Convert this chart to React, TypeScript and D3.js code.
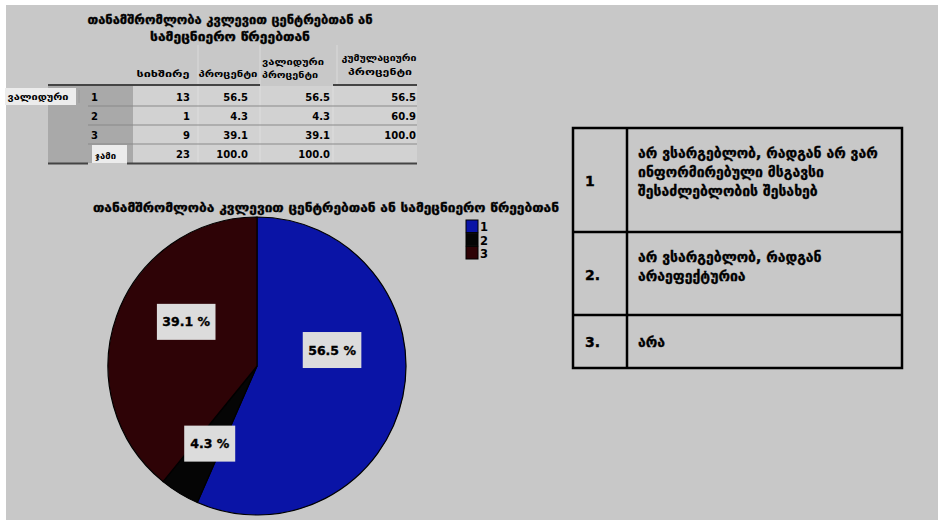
import * as d3 from 'd3';

// frequency table (SPSS output)
const categories = ['1', '2', '3'];
const frequency = [13, 1, 9];
const percent = [56.5, 4.3, 39.1];
const validPercent = [56.5, 4.3, 39.1];
const cumulativePercent = [56.5, 60.9, 100.0];
const totalFrequency = 23;
const totalPercent = 100.0;

const tableTitle = ['თანამშრომლობა კვლევით ცენტრებთან ან', 'სამეცნიერო წრეებთან'];
const pieTitle = 'თანამშრომლობა კვლევით ცენტრებთან ან სამეცნიერო წრეებთან';

// answer key on the right
const noteNumbers = ['1', '2.', '3.'];
const noteLines = [
  ['არ ვსარგებლობ, რადგან არ ვარ', 'ინფორმირებული მსგავსი', 'შესაძლებლობის შესახებ'],
  ['არ ვსარგებლობ, რადგან', 'არაეფექტურია'],
  ['არა'],
];

const W = 938;
const H = 520;
const FONT = '"DejaVu Sans", sans-serif';
const BG = '#c8c8c8';
const pieColors = ['#0a14a6', '#050505', '#2e0306'];

// where SPSS dropped the labels inside each slice: fraction of the slice angle, fraction of radius
const labelPlacement = [
  { frac: 0.383, r: 0.515 },
  { frac: 0.5, r: 0.61 },
  { frac: 0.588, r: 0.56 },
];

// a bit of stroke makes DejaVu look closer to the heavy SPSS font
const heavy = { stroke: '#000', strokeWidth: 0.35 };

function Label({ x, y, text }: { x: number; y: number; text: string }) {
  const w = text.length * 7.6 + 13;
  const h = 36;
  return (
    <g>
      <rect x={x - w / 2} y={y - h / 2} width={w} height={h} fill="#dcdcdc" />
      <text x={x} y={y} textAnchor="middle" dominantBaseline="central" fontSize={12.5} fontWeight="bold" fill="#000" {...heavy}>
        {text}
      </text>
    </g>
  );
}

export default function App() {
  // ---------- frequency table ----------
  const rowY = d3.scalePoint<string>().domain([...categories, 'total']).range([97, 154]);
  const colRight = [190, 248, 330, 416];
  const fmt = d3.format('.1f');

  const tableRows = categories.map((c, i) => ({
    label: c,
    values: [String(frequency[i]), fmt(percent[i]), fmt(validPercent[i]), fmt(cumulativePercent[i])],
  }));

  // ---------- pie ----------
  const cx = 257;
  const cy = 366;
  const radius = 149;
  const pieData = d3.pie<number>().sort(null).value(d => d)(percent);
  const arc = d3.arc<d3.PieArcDatum<number>>().innerRadius(0).outerRadius(radius);

  const legendY = d3.scaleBand<string>().domain(categories).range([220, 259]).paddingInner(0.05);

  // ---------- answer key ----------
  const keyX0 = 573;
  const keyX1 = 902;
  const keyDiv = 627;
  const keyRowEdges = [128, 232, 315, 368];

  return (
    <div style={{ position: 'absolute', left: 0, top: 0, width: W, height: H, background: '#fff' }}>
      <svg width={W} height={H} viewBox={`0 0 ${W} ${H}`} style={{ display: 'block', fontFamily: FONT }}>
        <rect x={6} y={5} width={W - 6} height={H - 5} fill={BG} />

        {/* table title */}
        <text x={230} y={20} textAnchor="middle" dominantBaseline="central" fontSize={11.5} fontWeight="bold"
          textLength={285} lengthAdjust="spacingAndGlyphs" {...heavy}>{tableTitle[0]}</text>
        <text x={230} y={37} textAnchor="middle" dominantBaseline="central" fontSize={11.5} fontWeight="bold"
          textLength={160} lengthAdjust="spacingAndGlyphs" {...heavy}>{tableTitle[1]}</text>

        {/* header cell dividers */}
        {[198, 260, 337].map(x => (
          <line key={x} x1={x} x2={x} y1={45} y2={84} stroke="#dadada" strokeWidth={1} />
        ))}

        {/* header texts */}
        <g fontSize={8.5} fontWeight="bold" dominantBaseline="central">
          <text x={163} y={74} textAnchor="middle" textLength={53} lengthAdjust="spacingAndGlyphs">სიხშირე</text>
          <text x={228} y={74} textAnchor="middle" textLength={59} lengthAdjust="spacingAndGlyphs">პროცენტი</text>
          <text x={262} y={62} textLength={62} lengthAdjust="spacingAndGlyphs">ვალიდური</text>
          <text x={262} y={75} textLength={56} lengthAdjust="spacingAndGlyphs">პროცენტი</text>
          <text x={379} y={58} textAnchor="middle" textLength={75} lengthAdjust="spacingAndGlyphs">კუმულაციური</text>
          <text x={380} y={72} textAnchor="middle" textLength={64} lengthAdjust="spacingAndGlyphs">პროცენტი</text>
        </g>

        {/* body background */}
        <rect x={48} y={86} width={85} height={77} fill="#a9a9a9" />
        <rect x={133} y={86} width={284} height={77} fill="#d2d2d2" />
        {[198, 260, 333].map(x => (
          <line key={x} x1={x} x2={x} y1={86} y2={163} stroke="#dedede" strokeWidth={1} />
        ))}

        {/* row separators */}
        {[106, 125, 144].map(y => (
          <line key={y} x1={88} x2={417} y1={y} y2={y} stroke="#8a8a8a" strokeWidth={1.2} />
        ))}
        {/* header rule */}
        <line x1={48} x2={260} y1={85} y2={85} stroke="#444" strokeWidth={2} />
        <line x1={333} x2={417} y1={85} y2={85} stroke="#444" strokeWidth={2} />

        {/* row group label */}
        <rect x={5} y={88} width={71} height={17} fill="#ececec" />
        <line x1={79} x2={79} y1={90} y2={103} stroke="#9a9a9a" strokeWidth={1} />
        <text x={38} y={97} textAnchor="middle" dominantBaseline="central" fontSize={8.5} fontWeight="bold"
          textLength={61} lengthAdjust="spacingAndGlyphs">ვალიდური</text>

        {/* total cell */}
        <rect x={92} y={145} width={35} height={18} fill="#ececec" />
        <text x={95} y={156} dominantBaseline="central" fontSize={8.5} fontWeight="bold"
          textLength={21} lengthAdjust="spacingAndGlyphs">ჯამი</text>

        {/* bottom rule */}
        <line x1={48} x2={88} y1={163.5} y2={163.5} stroke="#444" strokeWidth={2.2} />
        <line x1={127} x2={417} y1={163.5} y2={163.5} stroke="#444" strokeWidth={2.2} />

        {/* table values */}
        <g fontSize={10} fontWeight="bold" dominantBaseline="central">
          {tableRows.map(r => (
            <g key={r.label}>
              <text x={91} y={rowY(r.label)!}>{r.label}</text>
              {r.values.map((v, j) => (
                <text key={j} x={colRight[j]} y={rowY(r.label)!} textAnchor="end">{v}</text>
              ))}
            </g>
          ))}
          <text x={colRight[0]} y={rowY('total')!} textAnchor="end">{totalFrequency}</text>
          <text x={colRight[1]} y={rowY('total')!} textAnchor="end">{fmt(totalPercent)}</text>
          <text x={colRight[2]} y={rowY('total')!} textAnchor="end">{fmt(totalPercent)}</text>
        </g>

        {/* pie title */}
        <text x={326} y={208} textAnchor="middle" dominantBaseline="central" fontSize={12} fontWeight="bold"
          textLength={466} lengthAdjust="spacingAndGlyphs" {...heavy}>{pieTitle}</text>

        {/* pie */}
        <g transform={`translate(${cx},${cy})`}>
          {pieData.map((d, i) => (
            <path key={i} d={arc(d)!} fill={pieColors[i]} stroke="#000" strokeWidth={1.2} />
          ))}
          {pieData.map((d, i) => {
            const p = labelPlacement[i];
            const a = d.startAngle + p.frac * (d.endAngle - d.startAngle);
            const rr = p.r * radius;
            return <Label key={i} x={Math.sin(a) * rr} y={-Math.cos(a) * rr} text={`${fmt(d.data)} %`} />;
          })}
        </g>

        {/* legend */}
        {categories.map((c, i) => (
          <g key={c}>
            <rect x={466} y={legendY(c)!} width={12} height={legendY.bandwidth()} fill={pieColors[i]} stroke="#000" strokeWidth={1} />
            <text x={480} y={legendY(c)! + legendY.bandwidth() / 2 + 1} dominantBaseline="central" fontSize={11.5} fontWeight="bold">{c}</text>
          </g>
        ))}

        {/* answer key table */}
        <g>
          <rect x={keyX0} y={keyRowEdges[0]} width={keyX1 - keyX0} height={keyRowEdges[3] - keyRowEdges[0]}
            fill="none" stroke="#000" strokeWidth={2.5} />
          <line x1={keyDiv} x2={keyDiv} y1={keyRowEdges[0]} y2={keyRowEdges[3]} stroke="#000" strokeWidth={2.5} />
          {keyRowEdges.slice(1, 3).map(y => (
            <line key={y} x1={keyX0} x2={keyX1} y1={y} y2={y} stroke="#000" strokeWidth={2.5} />
          ))}
          {noteNumbers.map((n, i) => {
            const top = keyRowEdges[i];
            const lines = noteLines[i];
            const firstY = i === 2 ? 342 : top + 25;
            const numY = i === 0 ? 181 : i === 1 ? 275 : 342;
            return (
              <g key={n} fontSize={14} fontWeight="bold" dominantBaseline="central" {...heavy}>
                <text x={585} y={numY}>{n}</text>
                {lines.map((l, k) => (
                  <text key={k} x={638} y={firstY + k * 19}>{l}</text>
                ))}
              </g>
            );
          })}
        </g>
      </svg>
    </div>
  );
}
